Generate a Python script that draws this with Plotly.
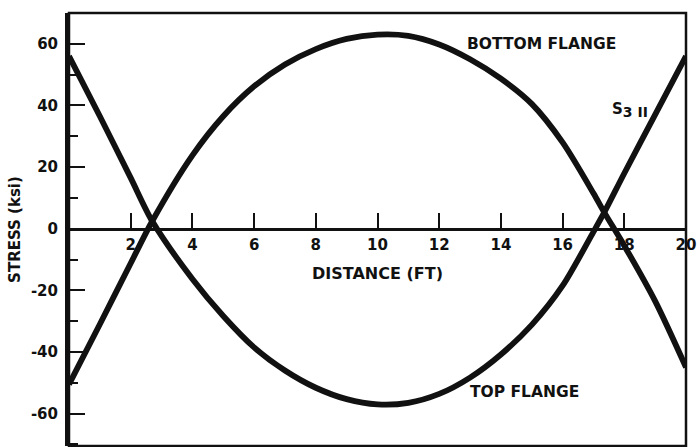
import plotly.graph_objects as go

# Flange stress along the span (ksi vs ft)
top_x = [0, 1, 2, 2.7, 4, 5, 6, 7, 8, 9, 10, 11, 12, 13, 14, 15, 16, 17, 17.35, 18, 19, 20]
top_y = [56, 36.5, 16.5, 2.4, -16.3, -28.3, -38.5, -46, -51.6, -55.3, -57, -56.5, -53.6, -48.3, -40.8, -31.2, -18.5, -1, 5.3, 18, 37, 56]

bot_x = [0, 1, 2, 2.7, 4, 5, 6, 7, 8, 9, 10, 11, 12, 13, 14, 15, 16, 17, 17.35, 18, 19, 20]
bot_y = [-50.5, -31, -11.2, 2.5, 23.8, 36.5, 46.2, 53.3, 58.3, 61.6, 63, 62.6, 59.8, 55, 48.7, 40.5, 28, 11.5, 5.3, -5.5, -23.5, -45]

x_ticks = [2, 4, 6, 8, 10, 12, 14, 16, 18, 20]
y_ticks = [-60, -40, -20, 0, 20, 40, 60]
y_tick_text = ["-60", "-40", "-20", "0", "20", "40", "60"]

x_range = [0, 20]
y_range = [-70.5, 70]

FONT = "DejaVu Sans"
INK = "#111111"

fig = go.Figure()
for xs, ys in ((bot_x, bot_y), (top_x, top_y)):
    fig.add_trace(go.Scatter(
        x=xs, y=ys, mode="lines",
        line=dict(color=INK, width=5.8, shape="spline", smoothing=0.8),
        showlegend=False, hoverinfo="skip",
    ))

# x axis drawn along the zero-stress line
zero_pos = (0 - y_range[0]) / (y_range[1] - y_range[0])

fig.update_layout(
    width=697, height=447,
    margin=dict(l=69, r=6, t=13, b=1),
    paper_bgcolor="white", plot_bgcolor="white",
    font=dict(family=FONT, color=INK),
    xaxis=dict(
        range=x_range, anchor="free", position=zero_pos,
        showgrid=False, zeroline=False,
        showline=True, linecolor=INK, linewidth=3,
        ticks="inside", ticklen=15, tickwidth=2, tickcolor=INK,
        tickvals=x_ticks, ticktext=[str(v) for v in x_ticks],
        tickfont=dict(size=15, weight="bold", family=FONT),
        ticklabelstandoff=1, ticklabeloverflow="allow",
        title=dict(text="DISTANCE (FT)", font=dict(size=16, weight="bold", family=FONT), standoff=15),
    ),
    yaxis=dict(
        range=y_range, showgrid=False, zeroline=False,
        showline=True, linecolor=INK, linewidth=4,
        ticks="inside", ticklen=16, tickwidth=2, tickcolor=INK,
        tickvals=y_ticks, ticktext=y_tick_text,
        tickfont=dict(size=15, weight="bold", family=FONT),
        ticklabelstandoff=4,
        minor=dict(ticks="inside", tick0=10, dtick=20, ticklen=9, tickwidth=2, tickcolor=INK),
        title=dict(text="STRESS (ksi)", font=dict(size=15, weight="bold", family=FONT), standoff=8),
    ),
    shapes=[dict(type="rect", xref="paper", yref="paper", x0=0, y0=0, x1=1, y1=1,
                 line=dict(color=INK, width=2.5), layer="above")],
    annotations=[
        dict(x=15.33, y=60, text="BOTTOM FLANGE", showarrow=False,
             font=dict(size=15.5, weight="bold", family=FONT)),
        dict(x=14.76, y=-53, text="TOP FLANGE", showarrow=False,
             font=dict(size=15.5, weight="bold", family=FONT)),
        dict(x=18.2, y=38.5, text="S<sub><span style='font-size:14px'>3 II</span></sub>", showarrow=False,
             font=dict(size=15, weight="bold", family=FONT)),
    ],
)

fig.write_html("out.html")
